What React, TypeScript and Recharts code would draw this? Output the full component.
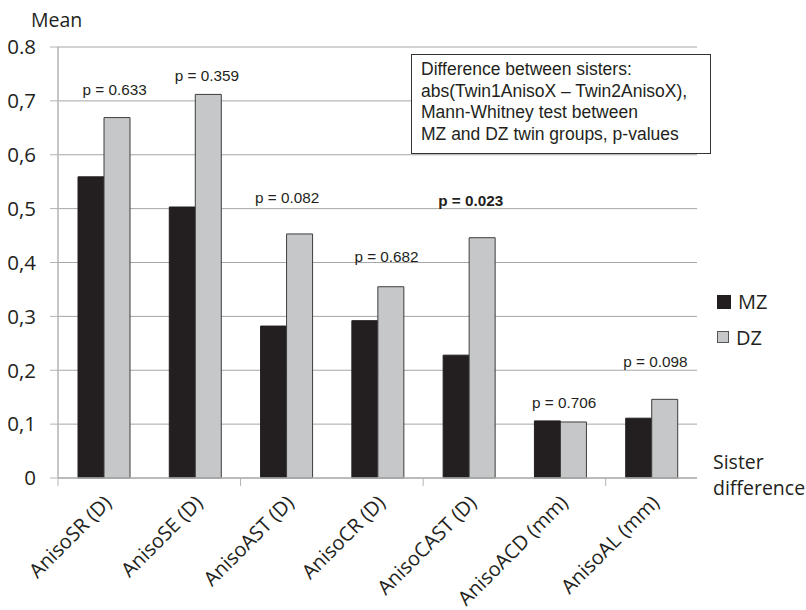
import React from "react";
import {
  ComposedChart,
  Bar,
  XAxis,
  YAxis,
  CartesianGrid,
  Legend,
  ReferenceDot,
} from "recharts";

const categories = [
  "AnisoSR (D)",
  "AnisoSE (D)",
  "AnisoAST (D)",
  "AnisoCR (D)",
  "AnisoCAST (D)",
  "AnisoACD (mm)",
  "AnisoAL (mm)",
];
const mzValues = [0.559, 0.503, 0.282, 0.292, 0.228, 0.106, 0.111];
const dzValues = [0.669, 0.712, 0.453, 0.355, 0.446, 0.104, 0.146];
const pValues = ["0.633", "0.359", "0.082", "0.682", "0.023", "0.706", "0.098"];
const pSignificant = [false, false, false, false, true, false, false];
// annotation anchor heights (value units) and horizontal nudges (px)
const pLabelY = [0.722, 0.748, 0.52, 0.412, 0.516, 0.141, 0.217];
const pLabelDx = [11, 12, 1, 9, 2, 4, 4];
const yTicks = [0, 0.1, 0.2, 0.3, 0.4, 0.5, 0.6, 0.7, 0.8];
const yTickLabels = ["0", "0,1", "0,2", "0,3", "0,4", "0,5", "0,6", "0,7", "0.8"];
const seriesNames = ["MZ", "DZ"];
const noteLines = [
  "Difference between sisters:",
  "abs(Twin1AnisoX \u2013 Twin2AnisoX),",
  "Mann-Whitney test between",
  "MZ and DZ twin groups, p-values",
];

const data = categories.map((c, i) => ({
  name: c,
  MZ: mzValues[i],
  DZ: dzValues[i],
}));

const TEXT = "#231f20";
const MZ_FILL = "#231f20";
const DZ_FILL = "#c6c7c8";
const GRID = "#a6a6a6";
const AXIS = "#b3b3b3";
const SANS = "'Open Sans', sans-serif";
const ARIAL = "'Liberation Sans', Arial, sans-serif";

const XTick = (props: any) => {
  const { x, y, payload, index } = props;
  const half = payload && typeof payload.offset === "number" && payload.offset > 0 ? payload.offset : 45.65;
  return (
    <g>
      {index % 2 === 0 && (
        <line x1={x - half} x2={x - half} y1={y} y2={y + 8} stroke={AXIS} strokeWidth={1} />
      )}
      <g transform={`translate(${x + 9},${y + 26})`}>
        <text
          textAnchor="end"
          transform="rotate(-45)"
          fontFamily={SANS}
          fontSize={20}
          fill={TEXT}
        >
          {payload.value}
        </text>
      </g>
    </g>
  );
};

const renderLegend = () => (
  <div style={{ fontFamily: SANS, fontSize: 20, color: TEXT }}>
    {seriesNames.map((n, i) => (
      <div key={n} style={{ display: "flex", alignItems: "center", height: 35.5 }}>
        <span
          style={{
            display: "inline-block",
            width: i === 0 ? 12 : 10,
            height: i === 0 ? 12 : 10,
            background: i === 0 ? MZ_FILL : DZ_FILL,
            border: i === 0 ? "0.5px solid " + MZ_FILL : "1px solid #555",
          }}
        />
        <span style={{ marginLeft: 7 }}>{n}</span>
      </div>
    ))}
  </div>
);

export default function App() {
  return (
    <div style={{ position: "absolute", left: 0, top: 0, width: 806, height: 610, background: "#fff" }}>
      <ComposedChart
        width={806}
        height={610}
        data={data}
        margin={{ top: 47, right: 109, bottom: 0, left: 0 }}
        barGap={0}
        barSize={26}
      >
        <CartesianGrid vertical={false} stroke={GRID} strokeWidth={1} />
        <XAxis
          dataKey="name"
          height={132}
          interval={0}
          tickSize={0}
          tickMargin={0}
          tickLine={false}
          axisLine={{ stroke: AXIS, strokeWidth: 1.5 }}
          tick={<XTick />}
          label={{
            content: () => (
              <text fontFamily={SANS} fontSize={19.5} fill={TEXT}>
                <tspan x={713} y={469}>Sister</tspan>
                <tspan x={713} y={495}>difference</tspan>
              </text>
            ),
          }}
        />
        <YAxis
          width={58}
          domain={[0, 0.8]}
          ticks={yTicks}
          interval={0}
          tickSize={8}
          tickMargin={14}
          axisLine={{ stroke: AXIS, strokeWidth: 1.5 }}
          tickLine={{ stroke: AXIS }}
          tick={{ fontFamily: SANS, fontSize: 20.5, fill: TEXT }}
          tickFormatter={(v: number) => yTickLabels[yTicks.indexOf(v)] ?? String(v)}
          label={{
            content: () => (
              <text x={31} y={27} fontFamily={SANS} fontSize={19.5} fill={TEXT}>
                Mean
              </text>
            ),
          }}
        />
        <Legend
          layout="vertical"
          align="center"
          verticalAlign="middle"
          content={renderLegend}
          wrapperStyle={{ left: 717, top: 284, width: 80 }}
        />
        <Bar dataKey="MZ" name="MZ" fill={MZ_FILL} stroke={MZ_FILL} strokeWidth={1} isAnimationActive={false} />
        <Bar dataKey="DZ" name="DZ" fill={DZ_FILL} stroke="#3d3d3d" strokeWidth={1} isAnimationActive={false} />
        {categories.map((c, i) => (
          <ReferenceDot
            key={c}
            x={c}
            y={pLabelY[i]}
            r={0}
            fill="none"
            stroke="none"
            ifOverflow="visible"
            label={{
              content: (p: any) => {
                const vb = p.viewBox || {};
                const cx = (vb.x ?? 0) + (vb.width ?? 0) / 2;
                const cy = (vb.y ?? 0) + (vb.height ?? 0) / 2;
                return (
                  <text
                    x={cx + pLabelDx[i]}
                    y={cy}
                    textAnchor="middle"
                    dominantBaseline="central"
                    fontFamily={ARIAL}
                    fontSize={15.3}
                    fontWeight={pSignificant[i] ? "bold" : "normal"}
                    fill={TEXT}
                  >
                    {`p = ${pValues[i]}`}
                  </text>
                );
              },
            }}
          />
        ))}
      </ComposedChart>
      <div
        style={{
          position: "absolute",
          left: 411,
          top: 54,
          width: 289,
          height: 94,
          border: "1px solid #333",
          background: "#fff",
          fontFamily: ARIAL,
          fontSize: 17.5,
          lineHeight: "21.7px",
          color: TEXT,
          paddingLeft: 9,
          paddingTop: 4,
          boxSizing: "content-box",
          whiteSpace: "nowrap",
        }}
      >
        {noteLines.map((l) => (
          <div key={l}>{l}</div>
        ))}
      </div>
    </div>
  );
}
